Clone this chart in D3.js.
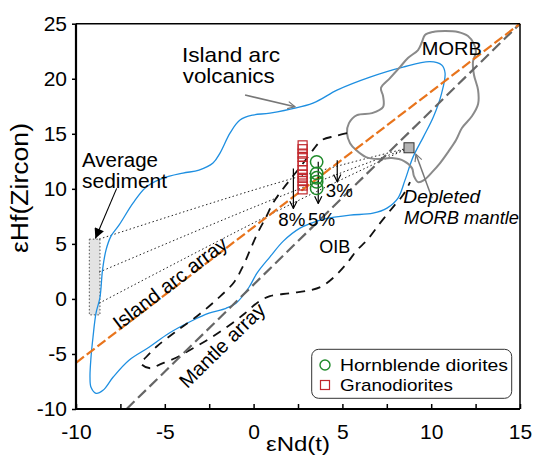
<!DOCTYPE html>
<html><head><meta charset="utf-8">
<script src="https://cdn.jsdelivr.net/npm/d3@7"></script>
<style>
html,body{margin:0;padding:0;background:#fff;}
svg text{font-family:"Liberation Sans",Arial,sans-serif;fill:#000;}
</style></head>
<body><svg id="c" width="538" height="457"></svg>
<script>
// ---------- data ----------
const xTicks = [-10,-7.5,-5,-2.5,0,2.5,5,7.5,10,12.5,15];
const xLabels = [-10,-5,0,5,10,15];
const yTicks = [-10,-5,0,5,10,15,20,25];

const islandArcArray = [[-10,-5.8],[15,25]];
const mantleArray = [[-7.15,-10],[15,25]];

const islandArcVolcanics = [
 [-8.874,-8.57],[-9.155,-8.03],[-9.212,-7.12],[-9.155,-5.30],[-9.043,-3.48],[-8.874,-1.30],
 [-8.649,0.15],[-8.508,2.61],[-8.311,4.43],[-8.029,5.70],[-7.579,6.70],[-6.791,8.70],
 [-6.059,10.15],[-5.101,10.97],[-3.975,11.43],[-3.074,11.70],[-2.286,12.34],[-1.892,13.25],
 [-1.329,15.06],[-0.766,16.25],[-0.034,16.70],[0.923,16.88],[3.345,17.79],[4.696,18.97],
 [6.554,20.15],[8.412,21.06],[9.932,21.55],[10.59,21.25],[10.78,20.52],[10.59,18.70],
 [10.12,16.52],[9.555,14.70],[8.975,12.88],[8.525,10.79],[8.131,9.16],[7.511,8.25],
 [6.723,7.79],[5.428,7.61],[4.133,7.31],[3.570,7.06],[2.613,6.43],[1.672,5.25],
 [0.923,3.82],[0.191,2.34],[-0.259,1.06],[-0.991,-0.39],[-1.554,-0.85],[-2.511,-1.30],
 [-3.412,-1.94],[-4.764,-3.12],[-5.890,-4.39],[-7.016,-5.57],[-7.917,-7.12],[-8.480,-8.30]
];

const morbField = [
 [9.65,23.97],[10.10,24.25],[10.78,24.34],[11.51,24.25],[12.07,23.88],[12.41,23.15],
 [12.52,22.43],[12.35,21.52],[12.41,20.34],[12.64,18.97],[12.64,17.70],[12.30,16.61],
 [11.73,15.52],[11.40,14.43],[10.95,13.34],[10.50,12.34],[10.05,11.52],[9.59,10.79],
 [9.26,10.61],[9.03,11.15],[8.92,11.88],[8.47,12.52],[7.79,12.79],[7.00,12.70],
 [6.33,12.88],[5.77,13.52],[5.43,14.15],[5.26,15.06],[5.37,15.97],[5.82,16.70],
 [6.67,16.88],[7.29,17.43],[7.29,18.43],[7.17,19.15],[7.68,20.06],[8.24,21.06],
 [8.69,21.88],[9.26,22.61],[9.48,23.34]
];

const oibField = [
 [5.26,15.06],[4.58,14.79],[3.85,14.43],[3.34,13.52],[2.84,12.43],[2.22,11.16],
 [1.60,9.88],[1.09,8.70],[0.70,7.43],[0.25,6.06],[-0.20,4.43],[-0.60,2.97],
 [-1.10,1.52],[-2.06,-0.03],[-3.19,-1.57],[-4.43,-3.03],[-5.44,-4.30],[-6.06,-5.30],
 [-6.34,-5.85],[-5.83,-6.30],[-5.27,-5.94],[-4.43,-5.39],[-3.41,-4.48],[-2.45,-3.57],
 [-1.44,-2.48],[-0.48,-1.30],[0.25,-0.30],[0.92,0.25],[2.05,0.52],[3.18,0.79],
 [3.85,1.15],[4.58,2.06],[5.26,3.25],[5.82,4.43],[6.39,5.34],[7.12,6.88],
 [7.85,8.34],[8.41,9.43],[8.81,10.61]
];

const sedimentBox = {x0:-9.25, x1:-8.65, y0:-1.45, y1:5.43};
const dmm = [8.75, 13.73];
const mixingLines = [
 [[-8.70,5.43],[1.26,10.50],[8.75,13.73]],
 [[-8.70,2.43],[1.26,9.15],[8.75,13.73]],
 [[-8.70,-0.39],[1.26,7.93],[8.75,13.73]]
];
const mixArrows = [
 {label:"8%", x:2.24, y0:11.85, y1:8.22, lx:2.15, ly:6.61},
 {label:"5%", x:3.64, y0:12.45, y1:8.67, lx:3.83, ly:6.61},
 {label:"3%", x:4.71, y0:12.60, y1:10.64, lx:4.83, ly:9.22}
];

const granodioritesNd = [2.76,2.76,2.76,2.76,2.76,2.76,2.76,2.76,2.76,2.76,2.76,2.76];
const granodioritesHf = [13.95,13.6,13.2,12.9,12.5,12.1,11.7,11.3,11.0,10.7,10.3,9.95];
const dioritesNd = [3.55,3.55,3.55,3.55,3.55];
const dioritesHf = [12.45,11.4,11.0,10.64,10.04];

// ---------- drawing ----------
const svg = d3.select("#c");
const x = d3.scaleLinear().domain([-10,15]).range([76,520]);
const y = d3.scaleLinear().domain([-10,25]).range([409,23.7]);
const line = d3.line().x(d=>x(d[0])).y(d=>y(d[1]));

const defs = svg.append("defs");
function vArrow(id,color){
  defs.append("marker").attr("id",id).attr("viewBox","0 0 10 10").attr("refX",9).attr("refY",5)
   .attr("markerWidth",9).attr("markerHeight",9).attr("markerUnits","userSpaceOnUse").attr("orient","auto")
   .append("path").attr("d","M1,1 L9,5 L1,9").attr("fill","none").attr("stroke",color).attr("stroke-width",1.3);
}
vArrow("arrBlack","#000"); vArrow("arrGray","#777");
defs.append("marker").attr("id","arrFill").attr("viewBox","0 0 10 10").attr("refX",10).attr("refY",5)
  .attr("markerWidth",12).attr("markerHeight",10).attr("markerUnits","userSpaceOnUse").attr("orient","auto")
  .append("path").attr("d","M0,0 L10,5 L0,10 Z").attr("fill","#000");

const plot = svg.append("g");

// sediment box
plot.append("rect").attr("x",x(sedimentBox.x0)).attr("y",y(sedimentBox.y1))
  .attr("width",x(sedimentBox.x1)-x(sedimentBox.x0)).attr("height",y(sedimentBox.y0)-y(sedimentBox.y1))
  .attr("fill","#e3e3e3").attr("stroke","#555").attr("stroke-width",1).attr("stroke-dasharray","1.5,2");

// mixing lines
mixingLines.forEach(m=>{
  plot.append("path").attr("d",d3.line().x(d=>x(d[0])).y(d=>y(d[1])).curve(d3.curveNatural)(m))
   .attr("fill","none").attr("stroke","#222").attr("stroke-width",1).attr("stroke-dasharray","1.5,2.5");
});

// island arc volcanics field
plot.append("path").attr("d",d3.line().x(d=>x(d[0])).y(d=>y(d[1])).curve(d3.curveCatmullRomClosed)(islandArcVolcanics))
  .attr("fill","none").attr("stroke","#1e8fe1").attr("stroke-width",1.3);

// MORB field
plot.append("path").attr("d",d3.line().x(d=>x(d[0])).y(d=>y(d[1])).curve(d3.curveCatmullRomClosed)(morbField))
  .attr("fill","none").attr("stroke","#8a8a8a").attr("stroke-width",2);

// OIB field
plot.append("path").attr("d",d3.line().x(d=>x(d[0])).y(d=>y(d[1])).curve(d3.curveCatmullRom)(oibField))
  .attr("fill","none").attr("stroke","#111").attr("stroke-width",1.8).attr("stroke-dasharray","9,7");

// arrays
plot.append("path").attr("d",line(mantleArray)).attr("stroke","#666").attr("stroke-width",2.2)
  .attr("stroke-dasharray","11,5").attr("fill","none");
plot.append("path").attr("d",line(islandArcArray)).attr("stroke","#e8741c").attr("stroke-width",2.2)
  .attr("stroke-dasharray","10,3.5").attr("fill","none");

// mixing arrows
mixArrows.forEach(a=>{
  plot.append("line").attr("x1",x(a.x)).attr("x2",x(a.x)).attr("y1",y(a.y0)).attr("y2",y(a.y1))
   .attr("stroke","#000").attr("stroke-width",1.2).attr("marker-end","url(#arrBlack)");
});

// samples
const gran = granodioritesNd.map((d,i)=>[d,granodioritesHf[i]]);
plot.selectAll(".gr").data(gran).enter().append("rect")
  .attr("x",d=>x(d[0])-4.5).attr("y",d=>y(d[1])-4.5).attr("width",9).attr("height",9)
  .attr("fill","none").attr("stroke","#c1272d").attr("stroke-width",1.2);
const dior = dioritesNd.map((d,i)=>[d,dioritesHf[i]]);
plot.selectAll(".dr").data(dior).enter().append("circle")
  .attr("cx",d=>x(d[0])).attr("cy",d=>y(d[1])).attr("r",6.2)
  .attr("fill","none").attr("stroke","#1f8a2a").attr("stroke-width",1.5);

// DMM
plot.append("rect").attr("x",x(dmm[0])-5).attr("y",y(dmm[1])-5).attr("width",10).attr("height",10)
  .attr("fill","#b5b5b5").attr("stroke","#333").attr("stroke-width",1);

// annotation arrows
function arrow(p0,p1,color,marker,w){
  plot.append("line").attr("x1",x(p0[0])).attr("y1",y(p0[1])).attr("x2",x(p1[0])).attr("y2",y(p1[1]))
   .attr("stroke",color).attr("stroke-width",w).attr("marker-end",`url(#${marker})`);
}
arrow([-0.48,18.52],[2.33,17.45],"#777","arrGray",1.5);
arrow([-7.71,10.04],[-8.91,5.49],"#000","arrFill",1.1);
arrow([10.05,9.15],[9.14,13.15],"#777","arrGray",1.5);

// text helper
function txt(g,tx,px,py,size,opts={}){
  const t=g.append("text").attr("x",px).attr("y",py).attr("font-size",size).text(tx);
  if(opts.anchor) t.attr("text-anchor",opts.anchor);
  if(opts.italic) t.attr("font-style","italic");
  if(opts.len) t.attr("textLength",opts.len).attr("lengthAdjust","spacingAndGlyphs");
  if(opts.rot!==undefined) t.attr("transform",`rotate(${opts.rot},${px},${py})`);
  if(opts.dy) t.attr("dy",opts.dy);
  return t;
}
txt(plot,"Island arc",x(-4.03),y(21.55),21,{len:98});
txt(plot,"volcanics",x(-3.99),y(19.58),21,{len:92});
txt(plot,"MORB",x(9.47),y(22.15),19,{len:60});
txt(plot,"Average",x(-9.66),y(12.0),20,{len:76});
txt(plot,"sediment",x(-9.66),y(10.09),20,{len:85});
txt(plot,"OIB",x(3.70),y(4.13),18,{len:31});
txt(plot,"Depleted",x(8.43),y(8.67),18,{italic:true,len:77});
txt(plot,"MORB mantle",x(8.47),y(6.85),18,{italic:true,len:115});
mixArrows.forEach(a=>txt(plot,a.label,x(a.lx),y(a.ly),18,{anchor:"middle",len:27}));
const arcAng = -Math.atan2(y(islandArcArray[0][1])-y(islandArcArray[1][1]), x(islandArcArray[1][0])-x(islandArcArray[0][0]))*180/Math.PI;
const manAng = -Math.atan2(y(mantleArray[0][1])-y(mantleArray[1][1]), x(mantleArray[1][0])-x(mantleArray[0][0]))*180/Math.PI;
txt(plot,"Island arc array",x(-4.71),y(1.43),20,{anchor:"middle",rot:arcAng,dy:"0.35em"});
txt(plot,"Mantle array",x(-1.78),y(-4.21),20,{anchor:"middle",rot:manAng,dy:"0.35em"});

// legend
const lg = svg.append("g");
lg.append("rect").attr("x",311.7).attr("y",349.3).attr("width",200).attr("height",49).attr("rx",7)
  .attr("fill","#fff").attr("stroke","#333").attr("stroke-width",1);
lg.append("circle").attr("cx",325).attr("cy",365).attr("r",5).attr("fill","none").attr("stroke","#1f8a2a").attr("stroke-width",1.4);
lg.append("rect").attr("x",320.5).attr("y",380.5).attr("width",9).attr("height",9).attr("fill","none").attr("stroke","#c1272d").attr("stroke-width",1.2);
txt(lg,"Hornblende diorites",340,371,17,{len:168});
txt(lg,"Granodiorites",340,391,17,{len:113});

// frame and axes
svg.append("line").attr("x1",76).attr("x2",520).attr("y1",23.7).attr("y2",23.7).attr("stroke","#000").attr("stroke-width",1.5);
svg.append("line").attr("x1",520).attr("x2",520).attr("y1",23.7).attr("y2",409).attr("stroke","#000").attr("stroke-width",1.5);

const xa = svg.append("g").attr("transform","translate(0,409)")
  .call(d3.axisBottom(x).tickValues(xTicks).tickSize(-5).tickPadding(15)
    .tickFormat(d=>xLabels.includes(d)?String(d):""));
const ya = svg.append("g").attr("transform","translate(76,0)")
  .call(d3.axisLeft(y).tickValues(yTicks).tickSize(4).tickPadding(5).tickFormat(d=>String(d)));
[xa,ya].forEach(a=>{
  a.select(".domain").attr("stroke","#000").attr("stroke-width",2.2);
  a.selectAll(".tick line").attr("stroke","#000").attr("stroke-width",1.5);
  a.selectAll(".tick text").attr("font-size",21).attr("font-family","Liberation Sans, Arial, sans-serif").attr("fill","#000");
});
xa.select(".domain").attr("d","M76,0H520");
ya.select(".domain").attr("d","M0,409V23.7");

// axis titles
txt(svg,"εNd(t)",298,451,20,{anchor:"middle",len:64});
txt(svg,"εHf(Zircon)",28,188,23,{anchor:"middle",rot:-90,len:130});
</script></body></html>
